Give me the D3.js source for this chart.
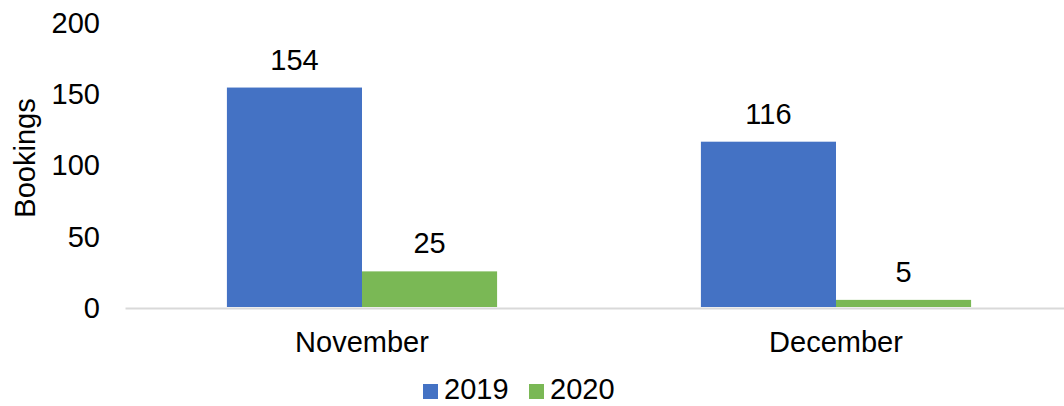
<!DOCTYPE html>
<html>
<head>
<meta charset="utf-8">
<script src="https://cdn.jsdelivr.net/npm/d3@7"></script>
<style>
  html, body { margin: 0; padding: 0; background: #ffffff; }
  svg { display: block; font-family: "Liberation Sans", Arial, sans-serif; }
</style>
</head>
<body>
<svg id="chart" width="1064" height="406"></svg>
<script>
// Monthly bookings, 2019 vs 2020
const months = ["November", "December"];
const seriesNames = ["2019", "2020"];
const bookings2019 = [154, 116];
const bookings2020 = [25, 5];
const yTicks = [0, 50, 100, 150, 200];
const seriesColors = ["#4472C4", "#7AB855"];

const seriesValues = [bookings2019, bookings2020];
const rows = months.map((m, i) => ({
  month: m,
  values: seriesNames.map((s, j) => ({ series: s, value: seriesValues[j][i], color: seriesColors[j] }))
}));

const svg = d3.select("#chart");
const fontSize = 29;

const x0 = d3.scaleBand()
  .domain(months)
  .range([125, 1073])
  .paddingInner(0.43)
  .paddingOuter(0.215);

const x1 = d3.scaleBand()
  .domain(seriesNames)
  .range([0, x0.bandwidth()]);

const y = d3.scaleLinear()
  .domain([0, 200])
  .range([307, 22]);

// Value axis: labels only, no line or ticks
const yAxis = d3.axisLeft(y).tickValues(yTicks).tickSize(0).tickPadding(0);
const yg = svg.append("g")
  .attr("transform", "translate(100,0)")
  .call(yAxis);
yg.select(".domain").remove();
yg.selectAll("text")
  .attr("font-size", fontSize)
  .attr("font-family", "Liberation Sans, Arial, sans-serif")
  .attr("fill", "#000")
  .attr("dy", "0.36em");

// Axis title
svg.append("text")
  .attr("transform", "translate(35,158) rotate(-90)")
  .attr("text-anchor", "middle")
  .attr("font-size", 29)
  .attr("fill", "#000")
  .text("Bookings");

// Bars
const groups = svg.append("g")
  .selectAll("g")
  .data(rows)
  .join("g")
  .attr("transform", d => `translate(${x0(d.month)},0)`);

groups.selectAll("rect")
  .data(d => d.values)
  .join("rect")
  .attr("x", d => x1(d.series))
  .attr("y", d => y(d.value))
  .attr("width", x1.bandwidth())
  .attr("height", d => y(0) - y(d.value))
  .attr("fill", d => d.color);

// Value labels above bars
groups.selectAll("text")
  .data(d => d.values)
  .join("text")
  .attr("x", d => x1(d.series) + x1.bandwidth() / 2)
  .attr("y", d => y(d.value) - 18)
  .attr("text-anchor", "middle")
  .attr("font-size", fontSize)
  .attr("fill", "#000")
  .text(d => d.value);

// Category axis
const xAxis = d3.axisBottom(x0).tickSize(0).tickPadding(0);
const xg = svg.append("g")
  .attr("transform", "translate(0,308)")
  .call(xAxis);
xg.select(".domain")
  .attr("stroke", "#d9d9d9")
  .attr("stroke-width", 2);
xg.selectAll("text")
  .attr("font-size", fontSize)
  .attr("font-family", "Liberation Sans, Arial, sans-serif")
  .attr("fill", "#000")
  .attr("dy", null)
  .attr("y", 44);

// Legend
const legendItems = [
  { name: seriesNames[0], color: seriesColors[0], x: 423 },
  { name: seriesNames[1], color: seriesColors[1], x: 529 }
];
const legend = svg.append("g");
legend.selectAll("rect")
  .data(legendItems)
  .join("rect")
  .attr("x", d => d.x)
  .attr("y", 384)
  .attr("width", 15)
  .attr("height", 15)
  .attr("fill", d => d.color);
legend.selectAll("text")
  .data(legendItems)
  .join("text")
  .attr("x", d => d.x + 21)
  .attr("y", 399)
  .attr("font-size", fontSize)
  .attr("fill", "#000")
  .text(d => d.name);
</script>
</body>
</html>
